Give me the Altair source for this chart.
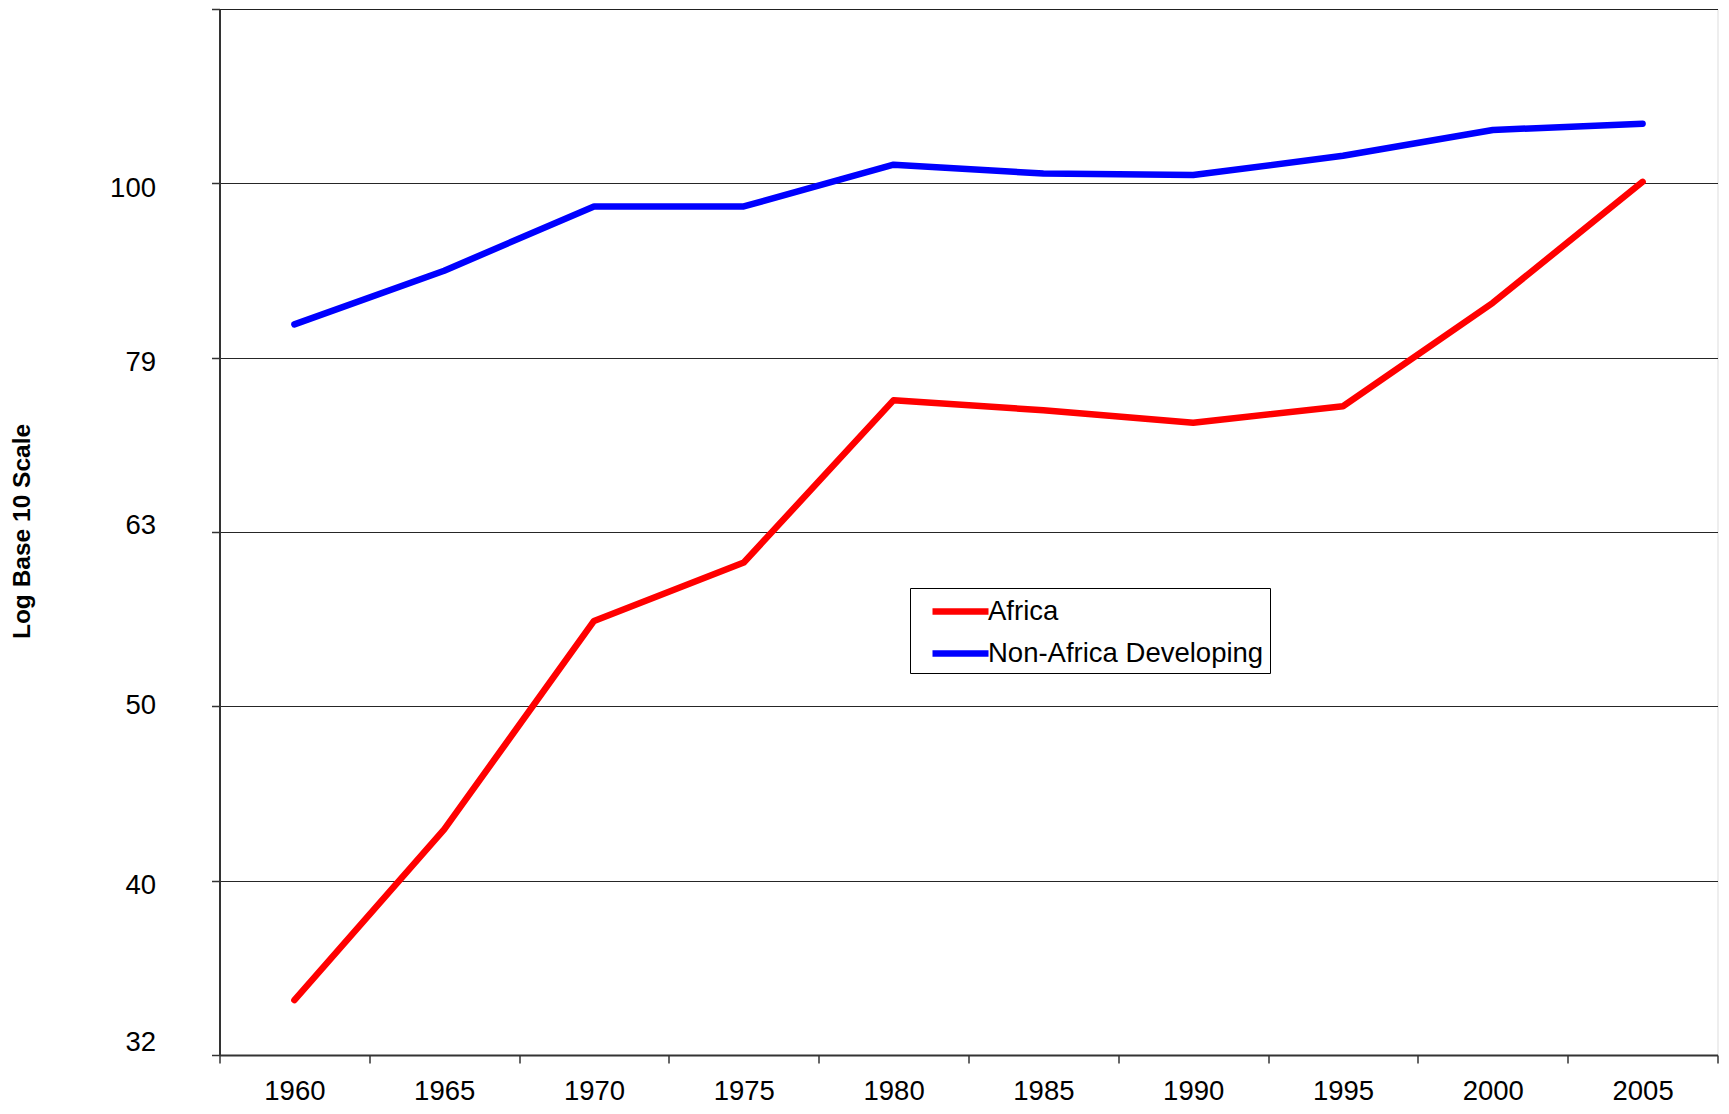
import altair as alt
import pandas as pd

years = ["1960", "1965", "1970", "1975", "1980", "1985", "1990", "1995", "2000", "2005"]
africa = [34.0, 42.6, 56.1, 60.6, 75.1, 74.1, 72.9, 74.5, 85.4, 100.2]
non_africa = [83.0, 89.1, 97.0, 97.0, 102.5, 101.3, 101.1, 103.7, 107.3, 108.2]
series_names = ["Africa", "Non-Africa Developing"]
series_colors = ["#FF0000", "#0000FF"]
y_ticks = [10 ** 1.5, 10 ** 1.6, 10 ** 1.7, 10 ** 1.8, 10 ** 1.9, 10 ** 2.0, 10 ** 2.1]

rows = []
for yr, a, n in zip(years, africa, non_africa):
    rows.append({"year": yr, "series": series_names[0], "value": a})
    rows.append({"year": yr, "series": series_names[1], "value": n})
df = pd.DataFrame(rows)

FONT = "Liberation Sans"

chart = alt.Chart(df).mark_line(strokeWidth=6.5, strokeCap="round", strokeJoin="round").encode(
    x=alt.X(
        "year:O",
        sort=years,
        scale=alt.Scale(type="band", paddingInner=0, paddingOuter=0),
        axis=alt.Axis(
            title=None,
            labelAngle=0,
            tickBand="extent",
            tickSize=8,
            tickColor="#333333",
            tickWidth=1.5,
            domainColor="#333333",
            domainWidth=2,
            labelFont=FONT,
            labelFontSize=27.5,
            labelColor="#000000",
            labelBaseline="alphabetic",
            labelPadding=36,
            grid=False,
        ),
    ),
    y=alt.Y(
        "value:Q",
        scale=alt.Scale(type="log", domain=[10 ** 1.5, 10 ** 2.1], nice=False),
        axis=alt.Axis(
            title="Log Base 10 Scale",
            titleFont=FONT,
            titleFontSize=24.5,
            titleFontWeight="bold",
            titleColor="#000000",
            titleAngle=270,
            titleAlign="center",
            titleBaseline="middle",
            titleX=-197,
            titleY=522,
            values=y_ticks,
            labelExpr="datum.value > 120 ? '' : format(datum.value, '.0f')",
            labelFont=FONT,
            labelFontSize=27.5,
            labelColor="#000000",
            labelBaseline="middle",
            labelOffset={
                "condition": [
                    {"test": "datum.value < 33", "value": -13},
                    {"test": "datum.value > 60 && datum.value < 65", "value": -7},
                    {"test": "datum.value > 48 && datum.value < 52", "value": -1},
                ],
                "value": 5,
            },
            labelPadding=56,
            tickSize=8,
            tickColor="#333333",
            tickWidth=1.5,
            domainColor="#333333",
            domainWidth=2,
            grid=True,
            gridColor="#000000",
            gridWidth=1,
            gridOpacity=0.85,
        ),
    ),
    color=alt.Color(
        "series:N",
        scale=alt.Scale(domain=series_names, range=series_colors),
        legend=alt.Legend(
            title=None,
            orient="none",
            legendX=690.5,
            legendY=579,
            symbolType="M-2,0H2",
            symbolSize=784,
            symbolStrokeWidth=6.5,
            symbolOffset=27,
            labelOffset=10,
            labelFont=FONT,
            labelFontSize=27.5,
            labelColor="#000000",
            labelLimit=400,
            rowPadding=11,
            padding=6,
            strokeColor="#000000",
            fillColor="#FFFFFF",
        ),
    ),
).properties(
    width=1498,
    height=1046,
    autosize=alt.AutoSizeParams(type="none"),
    padding={"left": 211.5, "top": 1, "right": 3, "bottom": 51},
).configure_view(
    stroke="#888888",
    strokeWidth=2,
).configure(background="#FFFFFF")

chart.save("out.html", embed_options={"renderer": "svg", "actions": False})
